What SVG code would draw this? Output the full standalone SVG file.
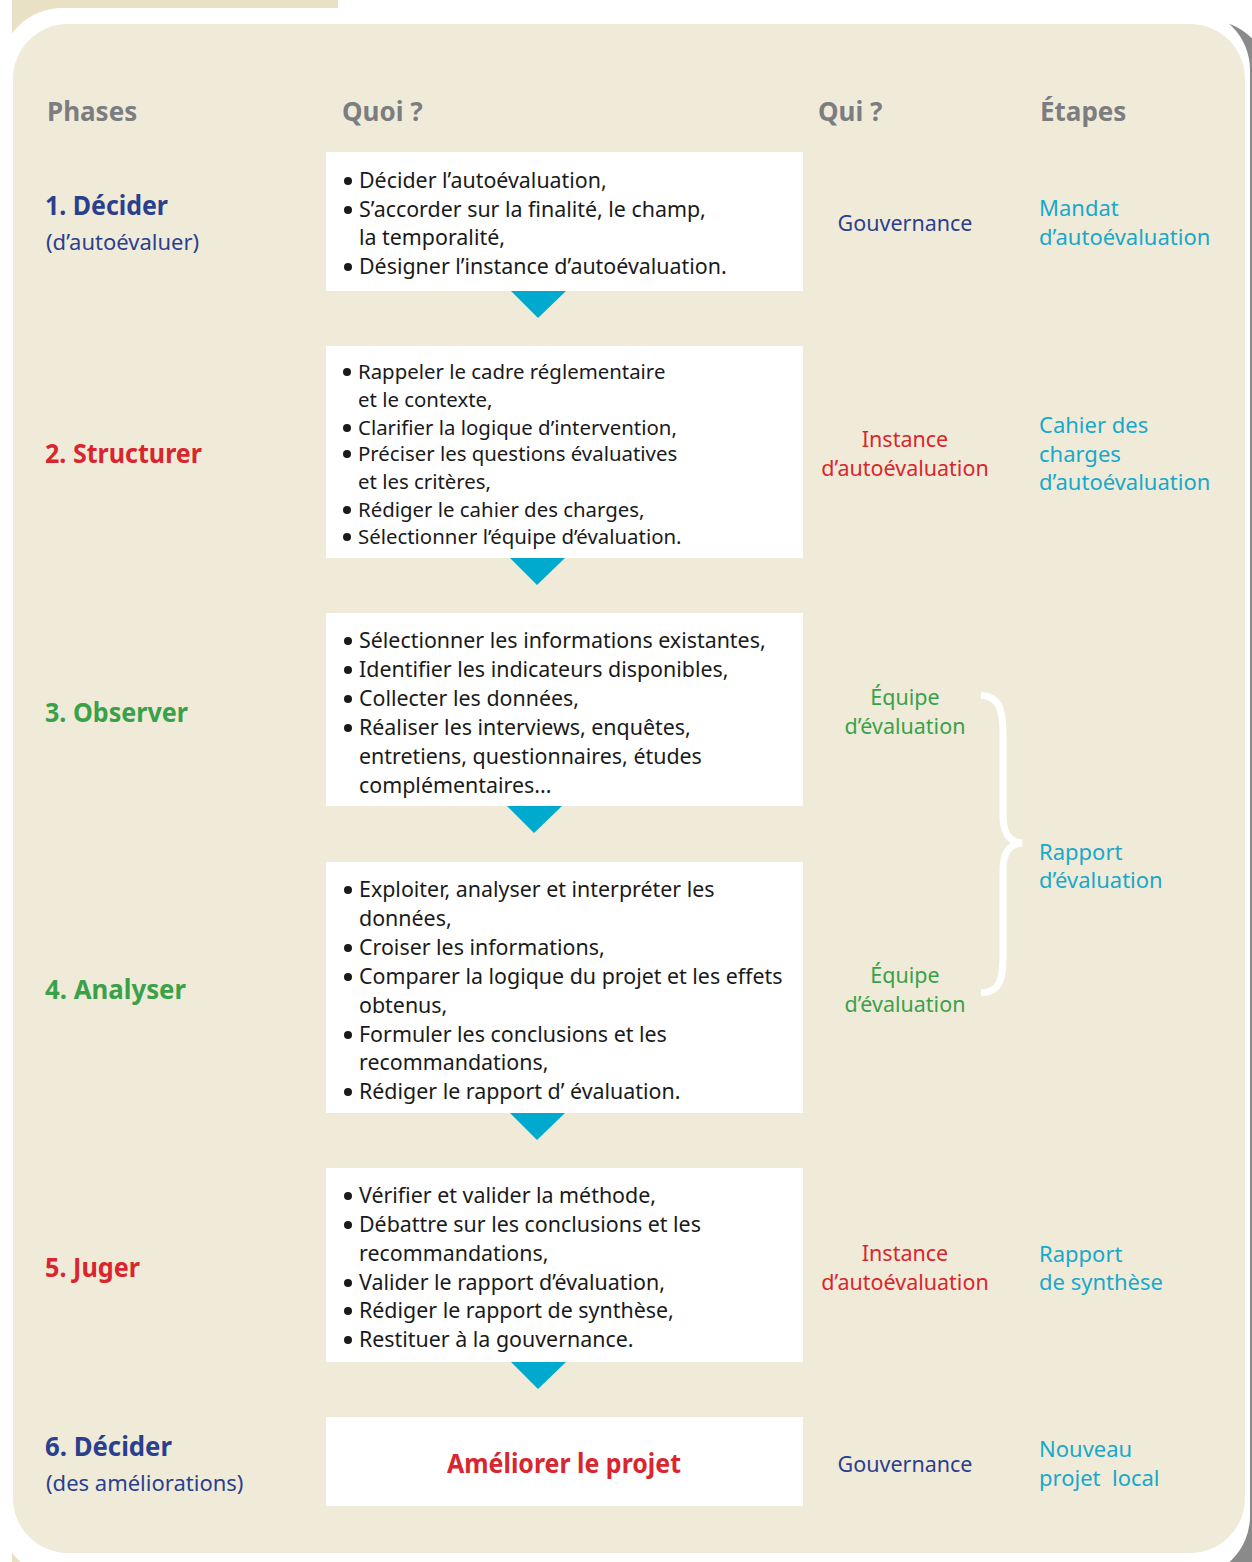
<svg xmlns="http://www.w3.org/2000/svg" width="1252" height="1562" viewBox="0 0 1252 1562">
<defs>
<style>
.hdr{font-family:"Noto Sans","Liberation Sans",sans-serif;font-weight:bold;font-size:26px;fill:#7b7d81}
.ph{font-family:"Noto Sans","Liberation Sans",sans-serif;font-weight:bold;font-size:27px}
.sub{font-family:"Noto Sans","Liberation Sans",sans-serif;font-size:22px;fill:#2b3f8f}
.bx{fill:#ffffff}
.tx{font-family:"Noto Sans","Liberation Sans",sans-serif;font-size:21.4px;fill:#1a1a1a}
.tx2{font-family:"Noto Sans","Liberation Sans",sans-serif;font-size:20.4px;fill:#1a1a1a}
.dot{fill:#1a1a1a}
.qui{font-family:"Noto Sans","Liberation Sans",sans-serif;font-size:21.5px;text-anchor:middle}
.et{font-family:"Noto Sans","Liberation Sans",sans-serif;font-size:22px;fill:#18a8cb}
.blue{fill:#2b3f8f}
.red{fill:#d9262e}
.green{fill:#3aa14a}
.tri{fill:#00a9ce}
</style>
</defs>
<rect x="0" y="0" width="1252" height="1562" fill="#ffffff"/>
<rect x="12" y="0" width="326" height="40" fill="#e8e1c6"/>
<rect x="12" y="1545" width="40" height="17" fill="#e8e1c6"/>
<rect x="30" y="20" width="1240" height="1580" rx="62" fill="#8a8a8a"/>
<rect x="0" y="8" width="1250" height="1570" rx="62" fill="#ffffff"/>
<rect x="13" y="24" width="1232" height="1529" rx="55" fill="#f0ebd8"/>

<g id="headers">
<text class="hdr" x="47" y="121">Phases</text>
<text class="hdr" x="342" y="121">Quoi ?</text>
<text class="hdr" x="818" y="121">Qui ?</text>
<text class="hdr" x="1040" y="121">Étapes</text>
</g>

<g id="phase1">
<text class="ph blue" x="45" y="215" textLength="123" lengthAdjust="spacingAndGlyphs">1. Décider</text>
<text class="sub" x="46" y="250">(d’autoévaluer)</text>
<rect class="bx" x="326" y="152" width="477" height="139"/>
<circle class="dot" cx="348" cy="181" r="4"/>
<circle class="dot" cx="348" cy="210" r="4"/>
<circle class="dot" cx="348" cy="267" r="4"/>
<text class="tx" x="359" y="188">Décider l’autoévaluation,</text>
<text class="tx" x="359" y="217">S’accorder sur la finalité, le champ,</text>
<text class="tx" x="359" y="245">la temporalité,</text>
<text class="tx" x="359" y="274">Désigner l’instance d’autoévaluation.</text>
<text class="qui blue" x="905" y="231">Gouvernance</text>
<text class="et" x="1039" y="216">Mandat</text>
<text class="et" x="1039" y="245">d’autoévaluation</text>
</g>

<g id="phase2">
<text class="ph red" x="45" y="463" textLength="157" lengthAdjust="spacingAndGlyphs">2. Structurer</text>
<rect class="bx" x="326" y="346" width="477" height="212"/>
<circle class="dot" cx="347" cy="372" r="4"/>
<circle class="dot" cx="347" cy="428" r="4"/>
<circle class="dot" cx="347" cy="454" r="4"/>
<circle class="dot" cx="347" cy="510" r="4"/>
<circle class="dot" cx="347" cy="537" r="4"/>
<text class="tx2" x="358" y="379">Rappeler le cadre réglementaire</text>
<text class="tx2" x="358" y="407">et le contexte,</text>
<text class="tx2" x="358" y="435">Clarifier la logique d’intervention,</text>
<text class="tx2" x="358" y="461">Préciser les questions évaluatives</text>
<text class="tx2" x="358" y="489">et les critères,</text>
<text class="tx2" x="358" y="517">Rédiger le cahier des charges,</text>
<text class="tx2" x="358" y="544">Sélectionner l’équipe d’évaluation.</text>
<text class="qui red" x="905" y="447">Instance</text>
<text class="qui red" x="905" y="476">d’autoévaluation</text>
<text class="et" x="1039" y="433">Cahier des</text>
<text class="et" x="1039" y="462">charges</text>
<text class="et" x="1039" y="490">d’autoévaluation</text>
</g>

<g id="phase3">
<text class="ph green" x="45" y="722" textLength="143" lengthAdjust="spacingAndGlyphs">3. Observer</text>
<rect class="bx" x="326" y="613" width="477" height="193"/>
<circle class="dot" cx="348" cy="641" r="4"/>
<circle class="dot" cx="348" cy="670" r="4"/>
<circle class="dot" cx="348" cy="699" r="4"/>
<circle class="dot" cx="348" cy="728" r="4"/>
<text class="tx" x="359" y="648">Sélectionner les informations existantes,</text>
<text class="tx" x="359" y="677">Identifier les indicateurs disponibles,</text>
<text class="tx" x="359" y="706">Collecter les données,</text>
<text class="tx" x="359" y="735">Réaliser les interviews, enquêtes,</text>
<text class="tx" x="359" y="764">entretiens, questionnaires, études</text>
<text class="tx" x="359" y="793">complémentaires...</text>
<text class="qui green" x="905" y="705">Équipe</text>
<text class="qui green" x="905" y="734">d’évaluation</text>
</g>

<g id="phase4">
<text class="ph green" x="45" y="999" textLength="141" lengthAdjust="spacingAndGlyphs">4. Analyser</text>
<rect class="bx" x="326" y="862" width="477" height="251"/>
<circle class="dot" cx="348" cy="890" r="4"/>
<circle class="dot" cx="348" cy="948" r="4"/>
<circle class="dot" cx="348" cy="977" r="4"/>
<circle class="dot" cx="348" cy="1035" r="4"/>
<circle class="dot" cx="348" cy="1092" r="4"/>
<text class="tx" x="359" y="897">Exploiter, analyser et interpréter les</text>
<text class="tx" x="359" y="926">données,</text>
<text class="tx" x="359" y="955">Croiser les informations,</text>
<text class="tx" x="359" y="984">Comparer la logique du projet et les effets</text>
<text class="tx" x="359" y="1013">obtenus,</text>
<text class="tx" x="359" y="1042">Formuler les conclusions et les</text>
<text class="tx" x="359" y="1070">recommandations,</text>
<text class="tx" x="359" y="1099">Rédiger le rapport d’ évaluation.</text>
<text class="qui green" x="905" y="983">Équipe</text>
<text class="qui green" x="905" y="1012">d’évaluation</text>
</g>

<g id="rapport-evaluation">
<path d="M981,695 C1000,697 1003,710 1003,735 L1003,815 C1003,835 1010,842 1022,843 C1010,844 1003,851 1003,871 L1003,955 C1003,980 1000,992 981,993" fill="none" stroke="#ffffff" stroke-width="7"/>
<text class="et" x="1039" y="860">Rapport</text>
<text class="et" x="1039" y="888">d’évaluation</text>
</g>

<g id="phase5">
<text class="ph red" x="45" y="1277" textLength="95" lengthAdjust="spacingAndGlyphs">5. Juger</text>
<rect class="bx" x="326" y="1168" width="477" height="194"/>
<circle class="dot" cx="348" cy="1196" r="4"/>
<circle class="dot" cx="348" cy="1225" r="4"/>
<circle class="dot" cx="348" cy="1283" r="4"/>
<circle class="dot" cx="348" cy="1311" r="4"/>
<circle class="dot" cx="348" cy="1340" r="4"/>
<text class="tx" x="359" y="1203">Vérifier et valider la méthode,</text>
<text class="tx" x="359" y="1232">Débattre sur les conclusions et les</text>
<text class="tx" x="359" y="1261">recommandations,</text>
<text class="tx" x="359" y="1290">Valider le rapport d’évaluation,</text>
<text class="tx" x="359" y="1318">Rédiger le rapport de synthèse,</text>
<text class="tx" x="359" y="1347">Restituer à la gouvernance.</text>
<text class="qui red" x="905" y="1261">Instance</text>
<text class="qui red" x="905" y="1290">d’autoévaluation</text>
<text class="et" x="1039" y="1262">Rapport</text>
<text class="et" x="1039" y="1290">de synthèse</text>
</g>

<g id="phase6">
<text class="ph blue" x="45" y="1456" textLength="127" lengthAdjust="spacingAndGlyphs">6. Décider</text>
<text class="sub" x="46" y="1491">(des améliorations)</text>
<rect class="bx" x="326" y="1417" width="477" height="89"/>
<text class="ph red" x="447" y="1473" textLength="234" lengthAdjust="spacingAndGlyphs">Améliorer le projet</text>
<text class="qui blue" x="905" y="1472">Gouvernance</text>
<text class="et" x="1039" y="1457">Nouveau</text>
<text class="et" x="1039" y="1486" xml:space="preserve">projet  local</text>
</g>

<g id="connectors">
<polygon class="tri" points="511,291 566,291 538,318"/>
<polygon class="tri" points="510,558 565,558 537,585"/>
<polygon class="tri" points="507,806 562,806 534,833"/>
<polygon class="tri" points="510,1113 565,1113 537,1140"/>
<polygon class="tri" points="511,1362 566,1362 538,1389"/>
</g>
</svg>
